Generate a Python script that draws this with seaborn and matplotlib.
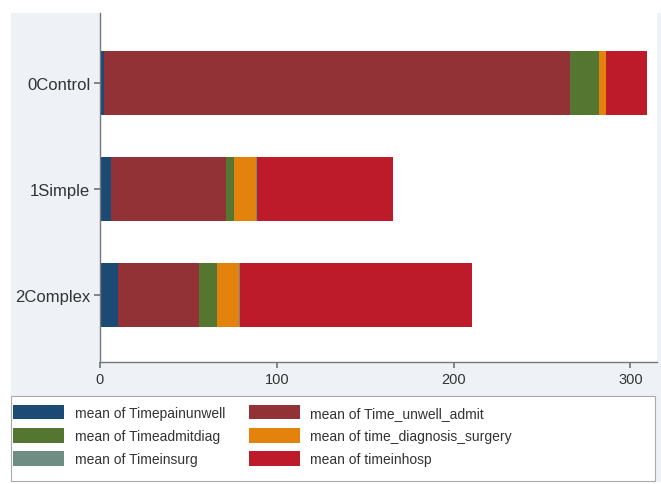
import numpy as np
import pandas as pd
import matplotlib
matplotlib.use("Agg")
import matplotlib.pyplot as plt
from matplotlib.patches import Rectangle, Patch
import seaborn as sns

# Mean time (hours) spent in each phase, by patient group
groups = ["0Control", "1Simple", "2Complex"]
series = [
    "Timepainunwell",
    "Time_unwell_admit",
    "Timeadmitdiag",
    "time_diagnosis_surgery",
    "Timeinsurg",
    "timeinhosp",
]
timepainunwell = [2, 6, 10]
time_unwell_admit = [264, 65, 46]
timeadmitdiag = [16, 4.5, 10]
time_diagnosis_surgery = [4, 13, 12.5]
timeinsurg = [0.3, 0.4, 0.8]
timeinhosp = [23, 77, 131]
colors = ["#1b4a75", "#923237", "#557630", "#e3820d", "#6e8e84", "#bd1b2a"]

values = [timepainunwell, time_unwell_admit, timeadmitdiag,
          time_diagnosis_surgery, timeinsurg, timeinhosp]

df = pd.DataFrame({name: vals for name, vals in zip(series, values)}, index=groups)
cum = df.cumsum(axis=1)

sns.set_theme(style="white")
plt.rcParams["font.family"] = ["Liberation Sans", "DejaVu Sans"]

fig = plt.figure(figsize=(6.61, 4.85), dpi=100)
fig.patch.set_facecolor("white")
W, H = 661, 485

# light graph-region background behind everything
bg = Rectangle((11 / W, 2 / H), 650 / W, 469 / H, transform=fig.transFigure,
               facecolor="#eef2f6", edgecolor="none", zorder=-5)
fig.add_artist(bg)

ax = fig.add_axes([100 / W, 1 - 363 / H, 557 / W, 349 / H])
ax.set_facecolor("white")

# stacked bars: draw cumulative totals from the outermost segment inward
for name, col in reversed(list(zip(series, colors))):
    d = pd.DataFrame({"group": groups, "end": cum[name].values})
    sns.barplot(data=d, x="end", y="group", order=groups, color=col,
                width=0.6, saturation=1, edgecolor="none", ax=ax, orient="h")

ax.set_xlim(0, 315)
ax.set_ylim(2.63, -0.66)
ax.set_xticks([0, 100, 200, 300])
ax.set_xlabel("")
ax.set_ylabel("")
for s in ["top", "right"]:
    ax.spines[s].set_visible(False)
for s in ["left", "bottom"]:
    ax.spines[s].set_visible(True)
    ax.spines[s].set_color("#777777")
    ax.spines[s].set_linewidth(1.0)
ax.tick_params(axis="both", which="both", length=4, color="#777777",
               labelcolor="#333333", direction="out",
               bottom=True, left=True, pad=3)
ax.tick_params(axis="x", labelsize=10.5)
ax.tick_params(axis="y", labelsize=12)

# legend box below the plot
box = Rectangle((11 / W, 3 / H), 644 / W, 85 / H, transform=fig.transFigure,
                facecolor="white", edgecolor="#aaaaaa", linewidth=0.8, zorder=1)
fig.add_artist(box)

handles = [Patch(facecolor=c, edgecolor="none", label=f"mean of {n}")
           for n, c in zip(series, colors)]
order = [0, 2, 4, 1, 3, 5]
leg = fig.legend([handles[i] for i in order], [handles[i].get_label() for i in order],
                 loc="upper left", bbox_to_anchor=(3 / W, 1 - 396 / H),
                 ncol=2, frameon=False, fontsize=10,
                 handlelength=3.7, handleheight=1.25, handletextpad=0.75,
                 labelspacing=0.6, borderpad=0.2, columnspacing=1.7,
                 labelcolor="#333333")
leg.set_zorder(2)

fig.savefig("out.png", dpi=100)
